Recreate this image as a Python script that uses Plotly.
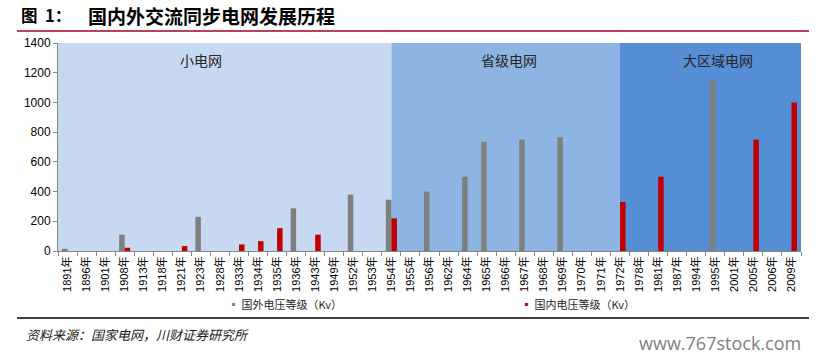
import plotly.graph_objects as go

years = ["1891年", "1896年", "1901年", "1908年", "1913年", "1918年", "1921年", "1923年",
         "1928年", "1933年", "1934年", "1935年", "1936年", "1943年", "1949年", "1952年",
         "1953年", "1954年", "1955年", "1956年", "1962年", "1964年", "1965年", "1966年",
         "1967年", "1968年", "1969年", "1970年", "1971年", "1972年", "1978年", "1981年",
         "1987年", "1994年", "1995年", "2001年", "2005年", "2006年", "2009年"]

foreign_kv = [15, None, None, 110, None, None, None, 230, None, None, None, None, 287, None,
              None, 380, None, 345, None, 400, None, 500, 735, None, 750, None, 765, None,
              None, None, None, None, None, None, 1150, None, None, None, None]

domestic_kv = [None, None, None, 22, None, None, 33, None, None, 44, 66, 154, None, 110,
               None, None, None, 220, None, None, None, None, None, None, None, None, None,
               None, None, 330, None, 500, None, None, None, None, 750, None, 1000]

era_names = ["小电网", "省级电网", "大区域电网"]
era_start = ["1891年", "1954年", "1972年"]
era_end = ["1954年", "1972年", "2009年"]
era_colors = ["#C6D9F1", "#8EB4E3", "#558ED5"]

series_names = ["国外电压等级（Kv）", "国内电压等级（Kv）"]
series_colors = ["#7F7F7F", "#C00000"]

y_ticks = [0, 200, 400, 600, 800, 1000, 1200, 1400]

CJK = "Noto Sans CJK SC"

fig = go.Figure()
fig.add_trace(go.Bar(x=years, y=foreign_kv, name=series_names[0],
                     marker=dict(color=series_colors[0], line=dict(width=0)),
                     showlegend=False))
fig.add_trace(go.Bar(x=years, y=domestic_kv, name=series_names[1],
                     marker=dict(color=series_colors[1], line=dict(width=0)),
                     showlegend=False))

# legend entries
for nm, col in zip(series_names, series_colors):
    fig.add_trace(go.Scatter(
        x=[None], y=[None], mode="markers",
        marker=dict(color="rgba(0,0,0,0)", size=1),
        name=f'<span style="color:{col}">▪</span> {nm}',
        showlegend=True))

# era background bands
n = len(years)
shapes = []
annotations = []
label_x = [0.192, 0.607, 0.888]
for i, (nm, s, e, c) in enumerate(zip(era_names, era_start, era_end, era_colors)):
    x0 = years.index(s) - (0.5 if i == 0 else 0)
    x1 = years.index(e) + (0.5 if i == len(era_names) - 1 else 0)
    shapes.append(dict(type="rect", xref="x", yref="paper", x0=x0, x1=x1, y0=0, y1=1,
                       fillcolor=c, line=dict(width=0), layer="below"))
    annotations.append(dict(text=nm, xref="paper", yref="paper", x=label_x[i], y=0.92,
                            showarrow=False, xanchor="center", yanchor="middle",
                            font=dict(family=CJK, size=14, color="#262626")))

# title red line and footer black line
shapes.append(dict(type="line", xref="paper", yref="paper", x0=-0.0552, x1=1.0108,
                   y0=1.0578, y1=1.0578, line=dict(color="#A50021", width=1.5)))
shapes.append(dict(type="line", xref="paper", yref="paper", x0=-0.0552, x1=1.0108,
                   y0=-0.3226, y1=-0.3226, line=dict(color="#000000", width=1.5)))

annotations.append(dict(text="<b>图\u00a0\u00a01：</b>", xref="paper", yref="paper",
                        x=-0.0525, y=1.134, xanchor="left", yanchor="middle", showarrow=False,
                        font=dict(family=CJK, size=16.5, color="#000000")))
annotations.append(dict(text="<b>国内外交流同步电网发展历程</b>", xref="paper", yref="paper",
                        x=0.038, y=1.134, xanchor="left", yanchor="middle", showarrow=False,
                        font=dict(family=CJK, size=19, color="#000000")))
annotations.append(dict(text="资料来源：国家电网，川财证券研究所", xref="paper", yref="paper",
                        x=-0.046, y=-0.4, xanchor="left", yanchor="middle", showarrow=False,
                        font=dict(family=CJK, size=13, color="#1a1a1a", style="italic")))
annotations.append(dict(text="www.767stock.com", xref="paper", yref="paper",
                        x=1.0027, y=-0.443, xanchor="right", yanchor="middle", showarrow=False,
                        font=dict(family="Open Sans", size=18, color="#808080")))

fig.update_layout(
    width=824, height=361,
    margin=dict(l=58, r=23, t=43, b=110),
    paper_bgcolor="white", plot_bgcolor="white",
    barmode="group", bargap=0.42, bargroupgap=0,
    shapes=shapes, annotations=annotations,
    legend=dict(orientation="h", x=0.175, y=-0.26, xanchor="left", yanchor="middle",
                font=dict(family=CJK, size=11, color="#262626"),
                entrywidth=248, entrywidthmode="pixels", itemwidth=30,
                bgcolor="rgba(0,0,0,0)"),
    font=dict(family="Liberation Sans", color="#000000"),
)
fig.update_xaxes(type="category", range=[-0.5, n - 0.5], tickangle=-90,
                 tickfont=dict(family="Liberation Sans, " + CJK, size=11, color="#000000"),
                 showline=True, linecolor="#868686", linewidth=1,
                 ticks="outside", ticklen=4, tickcolor="#868686", tickson="boundaries",
                 showgrid=False, zeroline=False, fixedrange=True)
fig.update_yaxes(range=[0, 1400], tickvals=y_ticks, ticktext=[str(v) for v in y_ticks],
                 tickfont=dict(family="Liberation Sans", size=12, color="#000000"),
                 showline=True, linecolor="#868686", linewidth=1,
                 ticks="outside", ticklen=4, tickcolor="#868686",
                 showgrid=False, zeroline=False, fixedrange=True)

# remove the browser's default 8px body margin so the figure fills the window exactly
fig.write_html("out.html", config={"displayModeBar": False},
               post_script="document.body.style.margin='0';")
